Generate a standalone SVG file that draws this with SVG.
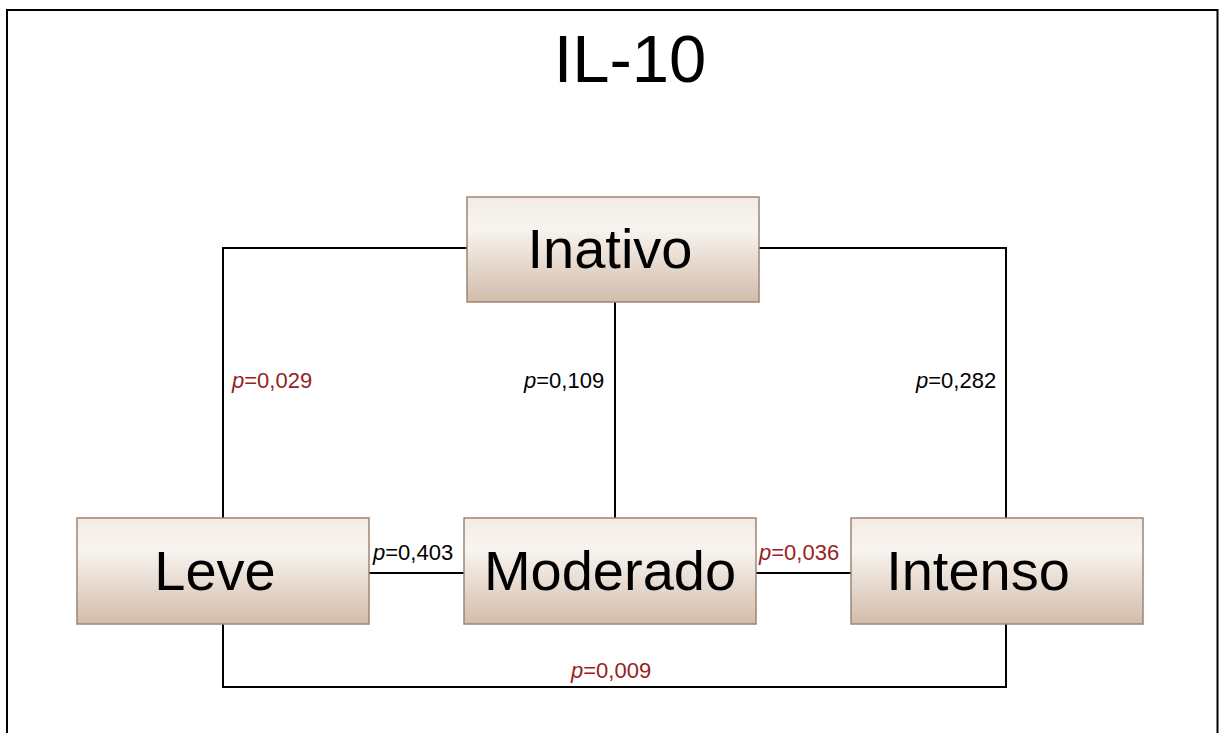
<svg xmlns="http://www.w3.org/2000/svg" width="1219" height="733" viewBox="0 0 1219 733">
  <defs>
    <linearGradient id="boxFill" x1="0" y1="0" x2="0" y2="1">
      <stop offset="0" stop-color="#f2ebe5"/>
      <stop offset="0.3" stop-color="#f8f4f0"/>
      <stop offset="1" stop-color="#d3bcaa"/>
    </linearGradient>
    <style>
      .box { fill: url(#boxFill); stroke: #9c8677; stroke-width: 1.5; }
      .label { font-family: "Liberation Sans", Arial, sans-serif; font-size: 56px; fill: #000; text-anchor: middle; }
      .title { font-family: "Liberation Sans", Arial, sans-serif; font-size: 67px; fill: #000; text-anchor: middle; }
      .p { font-family: "Liberation Sans", Arial, sans-serif; font-size: 22px; fill: #000; }
      .sig { fill: #962222; }
      .link { fill: none; stroke: #000; stroke-width: 2; }
    </style>
  </defs>

  <rect x="0" y="0" width="1219" height="733" fill="#fff"/>
  <!-- frame -->
  <rect x="7" y="10" width="1210.5" height="730" fill="none" stroke="#000" stroke-width="2"/>

  <text class="title" x="630" y="82">IL-10</text>

  <!-- connectors -->
  <g id="connectors">
    <polyline class="link" points="467,248 223,248 223,518"/>
    <polyline class="link" points="759,248 1006,248 1006,518"/>
    <line class="link" x1="615" y1="302" x2="615" y2="518"/>
    <line class="link" x1="369" y1="573" x2="464" y2="573"/>
    <line class="link" x1="756" y1="573" x2="851" y2="573"/>
    <polyline class="link" points="223,624 223,687 1006,687 1006,624"/>
  </g>

  <!-- p-value labels -->
  <g id="pvalues">
    <text class="p sig" x="232" y="388"><tspan font-style="italic">p</tspan>=0,029</text>
    <text class="p" x="524" y="388"><tspan font-style="italic">p</tspan>=0,109</text>
    <text class="p" x="916" y="388"><tspan font-style="italic">p</tspan>=0,282</text>
    <text class="p" x="373" y="560"><tspan font-style="italic">p</tspan>=0,403</text>
    <text class="p sig" x="759" y="560"><tspan font-style="italic">p</tspan>=0,036</text>
    <text class="p sig" x="571" y="678"><tspan font-style="italic">p</tspan>=0,009</text>
  </g>

  <g id="node-inativo">
    <rect class="box" x="467" y="197" width="292" height="105"/>
    <text class="label" x="610" y="268">Inativo</text>
  </g>
  <g id="node-leve">
    <rect class="box" x="77" y="518" width="292" height="106"/>
    <text class="label" x="215" y="590">Leve</text>
  </g>
  <g id="node-moderado">
    <rect class="box" x="464" y="518" width="292" height="106"/>
    <text class="label" x="610" y="590">Moderado</text>
  </g>
  <g id="node-intenso">
    <rect class="box" x="851" y="518" width="292" height="106"/>
    <text class="label" x="978" y="590">Intenso</text>
  </g>
</svg>
